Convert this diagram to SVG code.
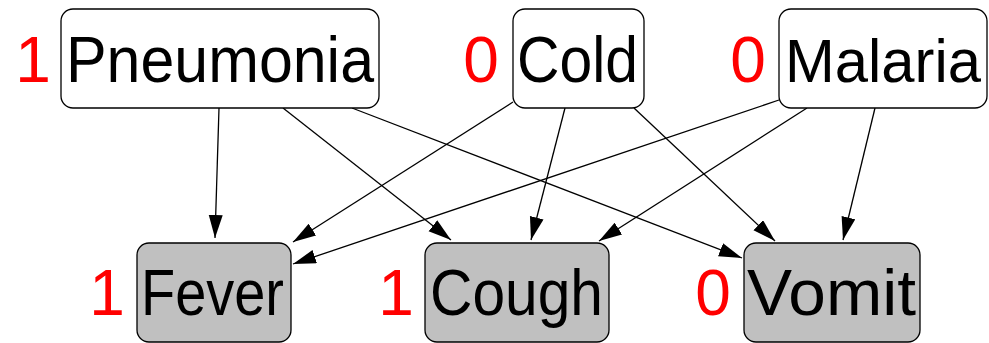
<svg xmlns="http://www.w3.org/2000/svg" width="989" height="343" viewBox="0 0 989 343">
<style>
.box{stroke:#000;stroke-width:1.3}
.top{fill:#fff}
.obs{fill:#c0c0c0}
.lbl{font-family:"Liberation Sans",Arial,sans-serif;font-size:64px;fill:#000}
.val{font-family:"Liberation Sans",Arial,sans-serif;font-size:64px;fill:#ff0000;text-anchor:middle}
.edge{stroke:#000;stroke-width:1.3;fill:none;marker-end:url(#ah)}
</style>
<defs>
<marker id="ah" markerUnits="userSpaceOnUse" markerWidth="24" markerHeight="15" refX="23" refY="7" orient="auto">
<path d="M0,0 L23,7 L0,14 z" fill="#000"/>
</marker>
</defs>
<rect width="989" height="343" fill="#fff"/>
<g id="connectors">
<line class="edge" x1="219" y1="108" x2="215" y2="238"/>
<line class="edge" x1="283" y1="108" x2="451" y2="240"/>
<line class="edge" x1="352" y1="108" x2="742" y2="258"/>
<line class="edge" x1="513" y1="102" x2="293" y2="242"/>
<line class="edge" x1="565" y1="108" x2="531" y2="240"/>
<line class="edge" x1="634" y1="108" x2="775" y2="241"/>
<line class="edge" x1="779" y1="100" x2="293" y2="264"/>
<line class="edge" x1="807" y1="108" x2="599" y2="241"/>
<line class="edge" x1="875" y1="108" x2="843" y2="240"/>
</g>
<g id="pneumonia">
<rect class="box top" x="61" y="9" width="318" height="99" rx="12"/>
<text class="val" x="33" y="82">1</text>
<text class="lbl" x="66" y="82" textLength="308" lengthAdjust="spacingAndGlyphs">Pneumonia</text>
</g>
<g id="cold">
<rect class="box top" x="513" y="9" width="131" height="99" rx="12"/>
<text class="val" x="481" y="82">0</text>
<text class="lbl" x="517" y="82" textLength="121" lengthAdjust="spacingAndGlyphs">Cold</text>
</g>
<g id="malaria">
<rect class="box top" x="779" y="9" width="208" height="99" rx="12"/>
<text class="val" x="748" y="82">0</text>
<text class="lbl" x="785" y="82" style="font-size:61px" textLength="196" lengthAdjust="spacingAndGlyphs">Malaria</text>
</g>
<g id="fever">
<rect class="box obs" x="137" y="243" width="154" height="99" rx="12"/>
<text class="val" x="107" y="315">1</text>
<text class="lbl" x="141" y="315" textLength="143" lengthAdjust="spacingAndGlyphs">Fever</text>
</g>
<g id="cough">
<rect class="box obs" x="425" y="243" width="184" height="99" rx="12"/>
<text class="val" x="396" y="315">1</text>
<text class="lbl" x="430" y="315" textLength="173" lengthAdjust="spacingAndGlyphs">Cough</text>
</g>
<g id="vomit">
<rect class="box obs" x="744" y="243" width="176" height="99" rx="12"/>
<text class="val" x="713" y="315">0</text>
<text class="lbl" x="747" y="315" textLength="169" lengthAdjust="spacingAndGlyphs">Vomit</text>
</g>
</svg>
